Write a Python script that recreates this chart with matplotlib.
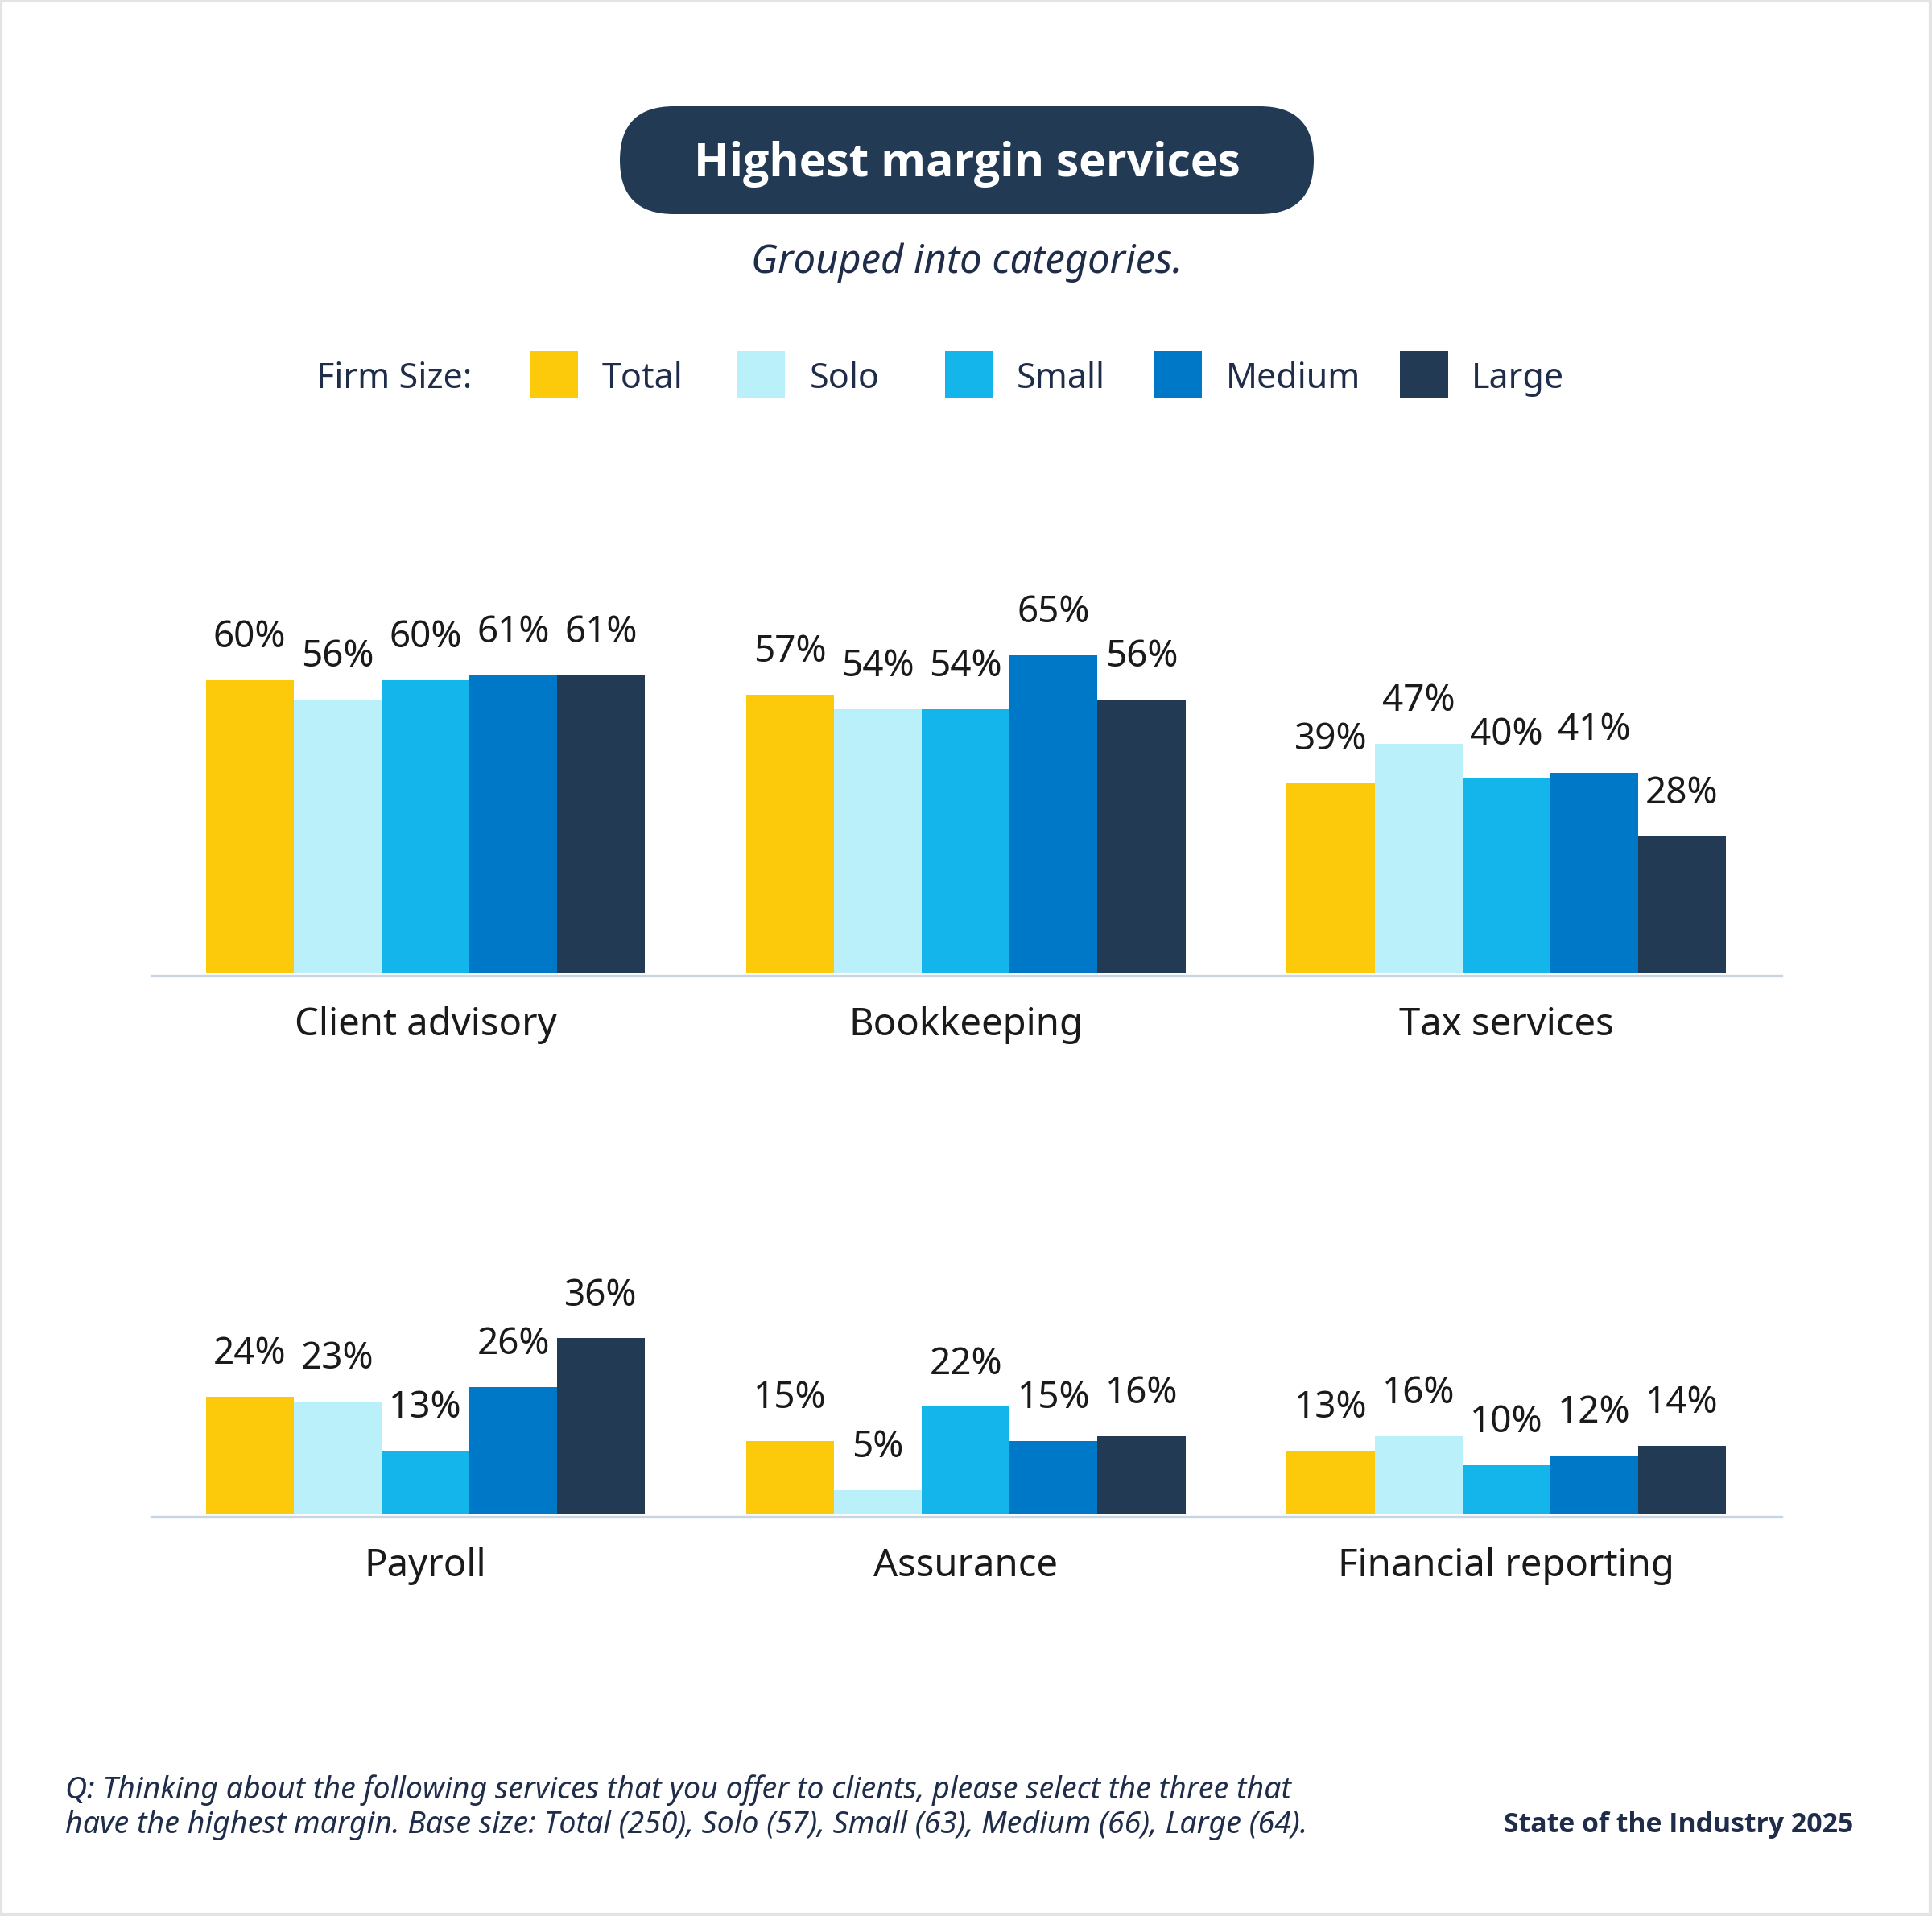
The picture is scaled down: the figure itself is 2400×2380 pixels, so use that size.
import matplotlib
matplotlib.use("Agg")
import matplotlib.pyplot as plt
import numpy as np
from matplotlib.patches import FancyBboxPatch, Rectangle

plt.rcParams['font.family'] = ['Noto Sans', 'DejaVu Sans']

# data
series = ["Total", "Solo", "Small", "Medium", "Large"]
colors = ["#FCCA0A", "#BAF0FA", "#13B5EA", "#0078C8", "#233A55"]

top_cats = ["Client advisory", "Bookkeeping", "Tax services"]
top_vals = [
    [60, 56, 60, 61, 61],
    [57, 54, 54, 65, 56],
    [39, 47, 40, 41, 28],
]
bot_cats = ["Payroll", "Assurance", "Financial reporting"]
bot_vals = [
    [24, 23, 13, 26, 36],
    [15, 5, 22, 15, 16],
    [13, 16, 10, 12, 14],
]

W, H = 2400, 2380
DPI = 200
NAVY = "#1F2D4A"
BOLD = ['Open Sans', 'Roboto', 'DejaVu Sans']
fig = plt.figure(figsize=(W / DPI, H / DPI), dpi=DPI)
fig.patch.set_facecolor("white")

bar_w = 0.1625


def panel(base_px, cats, vals):
    ax = fig.add_axes([188 / W, 1 - base_px / H, (2213 - 188) / W, 512 / H])
    ax.set_xlim(-0.507, 2.509)
    ax.set_ylim(-0.5, 83.8)
    for i, s in enumerate(series):
        xs = np.arange(len(cats)) + (i - 2) * bar_w
        ys = [v[i] for v in vals]
        ax.bar(xs, ys, width=bar_w, color=colors[i], linewidth=0, label=s)
        for x, y in zip(xs, ys):
            ax.annotate("{}%".format(y), (x, y), xytext=(0, 19), textcoords="offset points",
                        ha="center", va="center", fontsize=16.5, color="#1a1a1a")
    for j, c in enumerate(cats):
        ax.annotate(c, (j, -0.5), xytext=(0, -22), textcoords="offset points",
                    ha="center", va="center", fontsize=17, color="#1a1a1a")
    for sp in ["top", "right", "left"]:
        ax.spines[sp].set_visible(False)
    ax.spines["bottom"].set_color("#C9D6E2")
    ax.spines["bottom"].set_linewidth(1.2)
    ax.set_xticks([])
    ax.set_yticks([])
    ax.patch.set_alpha(0)
    return ax


panel(1212, top_cats, top_vals)
panel(1884, bot_cats, bot_vals)

# decoration layer in pixel coordinates
ov = fig.add_axes([0, 0, 1, 1])
ov.set_xlim(0, W)
ov.set_ylim(H, 0)
ov.axis("off")
ov.patch.set_alpha(0)

ov.add_patch(Rectangle((1, 1), W - 3, H - 3, fill=False, edgecolor="#E3E3E3", linewidth=1.5))

pill = FancyBboxPatch((770, 132), 862, 134, boxstyle="round,pad=0,rounding_size=67",
                      facecolor="#233A55", edgecolor="none")
ov.add_patch(pill)
ov.text(1201, 204, "Highest margin services", ha="center", va="center",
        fontsize=20.5, fontweight="bold", color="white", family=BOLD)
ov.text(1201, 326, "Grouped into categories.", ha="center", va="center",
        fontsize=17.6, style="italic", color=NAVY)

# legend
ov.text(393, 471, "Firm Size:", ha="left", va="center", fontsize=15.5, color=NAVY)
sw_x = [658, 915, 1174, 1433, 1739]
tx_x = [748, 1006, 1263, 1523, 1828]
for i, s in enumerate(series):
    ov.add_patch(Rectangle((sw_x[i], 436), 60, 59, facecolor=colors[i], edgecolor="none"))
    ov.text(tx_x[i], 471, s, ha="left", va="center", fontsize=15.5, color=NAVY)

# footnote
ov.text(81, 2224, "Q: Thinking about the following services that you offer to clients, please select the three that",
        ha="left", va="center", fontsize=13.5, style="italic", color=NAVY)
ov.text(81, 2267, "have the highest margin. Base size: Total (250), Solo (57), Small (63), Medium (66), Large (64).",
        ha="left", va="center", fontsize=13.5, style="italic", color=NAVY)
ov.text(2302, 2267, "State of the Industry 2025", ha="right", va="center",
        fontsize=12.2, fontweight="bold", color=NAVY, family=BOLD)

fig.savefig("out.png", dpi=DPI, facecolor="white")
